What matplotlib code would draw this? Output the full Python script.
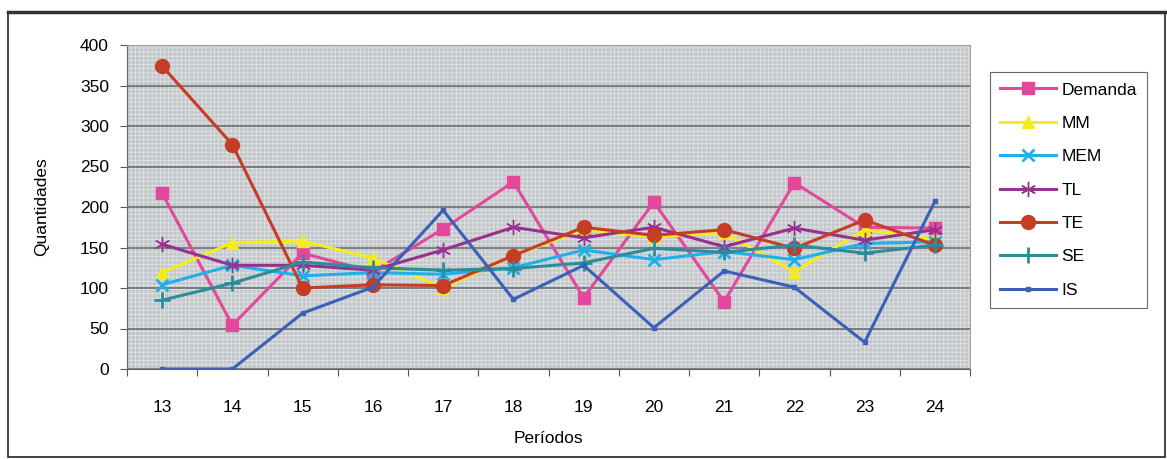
import matplotlib
matplotlib.use('Agg')
import matplotlib.pyplot as plt
from matplotlib.patches import Rectangle

plt.rcParams['font.family'] = ['Liberation Sans', 'DejaVu Sans']
plt.rcParams['hatch.linewidth'] = 0.5

# chart data
periodos = [13, 14, 15, 16, 17, 18, 19, 20, 21, 22, 23, 24]
demanda = [217, 54, 143, 120, 173, 231, 88, 206, 83, 230, 175, 174]
mm = [119, 156, 158, 137, 100, 140, 172, 163, 168, 120, 172, 160]
mem = [104, 128, 115, 119, 117, 125, 147, 135, 145, 135, 155, 157]
tl = [154, 128, 128, 122, 147, 175, 162, 175, 151, 174, 159, 172]
te = [374, 277, 100, 104, 103, 140, 175, 165, 172, 149, 184, 153]
se = [85, 106, 132, 125, 122, 124, 131, 149, 144, 153, 143, 153]
is_ = [0, 0, 69, 101, 196, 86, 128, 51, 121, 101, 33, 207]

series = [
    ('Demanda', demanda, '#e4479c', 's', 9),
    ('MM', mm, '#f4ec1c', '^', 9),
    ('MEM', mem, '#1fb0ea', 'x', 9),
    ('TL', tl, '#98308e', (6, 2, 0), 11),
    ('TE', te, '#c63c24', 'o', 10),
    ('SE', se, '#2b8c9c', '+', 11),
    ('IS', is_, '#3a60b8', 's', 3),
]

fig = plt.figure(figsize=(11.67, 4.59), dpi=100)
fig.patch.set_facecolor('white')

# outer chart border
fig.add_artist(Rectangle((8 / 1167, 2 / 459), 1157 / 1167, 445 / 459,
                         transform=fig.transFigure, fill=False,
                         edgecolor='#222222', linewidth=1.2))
fig.add_artist(plt.Line2D([8 / 1167, 1], [1 - 12 / 459, 1 - 12 / 459],
                          transform=fig.transFigure, color='#333333', linewidth=2.5))

ax = fig.add_axes([127 / 1167, 1 - 369 / 459, 843 / 1167, 324 / 459])
ax.set_facecolor('#c3c7ca')
ax.add_patch(Rectangle((0, 0), 1, 1, transform=ax.transAxes, facecolor='none',
                       hatch='++++', edgecolor='#e2e6e8', linewidth=0, zorder=0))

x = list(range(len(periodos)))
for name, vals, color, marker, ms in series:
    mew = 2 if marker in ('x', '+') else 1
    ax.plot(x, vals, color=color, linewidth=2.2, marker=marker, markersize=ms,
            markeredgewidth=mew, markeredgecolor=color, markerfacecolor=color,
            label=name, zorder=3)

ax.set_xlim(-0.5, len(periodos) - 0.5)
ax.set_ylim(0, 400)
ax.set_yticks(range(0, 401, 50))
ax.set_xticks([i - 0.5 for i in range(len(periodos) + 1)], minor=False)
ax.set_xticklabels([])
ax.set_xticks(x, minor=True)
ax.set_xticklabels([str(p) for p in periodos], minor=True)
ax.tick_params(axis='x', which='minor', length=0, pad=22, labelsize=12.5)
ax.tick_params(axis='x', which='major', length=5, color='#555555')
ax.tick_params(axis='y', length=5, color='#555555', labelsize=12.5, pad=8)
ax.yaxis.grid(True, color='#63676a', linewidth=1.1)
ax.set_axisbelow(True)
for side in ('top', 'right'):
    ax.spines[side].set_color('#a0a4a6')
for side in ('left', 'bottom'):
    ax.spines[side].set_color('#666666')

ax.set_ylabel('Quantidades', fontsize=12.5, labelpad=22)
ax.set_xlabel('Períodos', fontsize=12.5, labelpad=12)

leg = fig.legend(loc='upper left', bbox_to_anchor=(990 / 1167, 1 - 72 / 459),
                 frameon=True, fontsize=12.5, handlelength=3.2,
                 labelspacing=1.05, borderpad=0.6, handletextpad=0.3,
                 borderaxespad=0)
leg.get_frame().set_edgecolor('#444444')
leg.get_frame().set_linewidth(0.8)
leg.get_frame().set_boxstyle('square', pad=0)

fig.savefig('out.png', dpi=100)
